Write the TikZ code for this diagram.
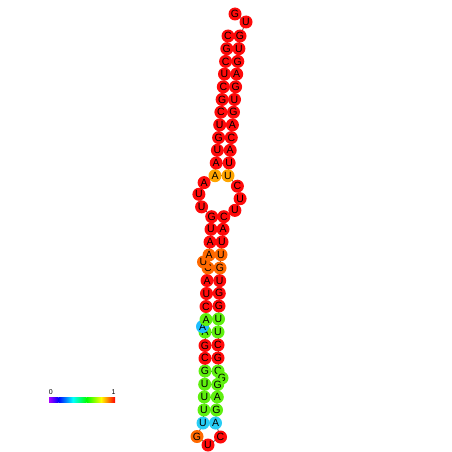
\documentclass[tikz,border=0pt]{standalone}
\usepackage{fontspec}
\setsansfont{Liberation Sans}
\pgfdeclarelayer{bg}
\pgfsetlayers{bg,main}
\definecolor{cR}{RGB}{255,10,10}
\definecolor{cO}{RGB}{255,165,0}
\definecolor{cO2}{RGB}{255,105,0}
\definecolor{cG}{RGB}{95,240,15}
\definecolor{cC}{RGB}{30,190,255}
\definecolor{cC2}{RGB}{40,205,245}
\definecolor{lPu}{RGB}{170,0,255}
\definecolor{lBl}{RGB}{0,0,255}
\definecolor{lCy}{RGB}{0,255,255}
\definecolor{lGr}{RGB}{0,255,0}
\definecolor{lYe}{RGB}{255,255,0}
\definecolor{lRe}{RGB}{255,0,0}
\tikzset{
  nt/.style={circle, inner sep=0pt, minimum size=13pt, draw=none,
    font=\sffamily\fontsize{10.5}{10.5}\selectfont},
  bb/.style={draw=black!75, line width=0.7pt},
  lbl/.style={font=\sffamily\fontsize{7}{7}\selectfont, inner sep=0pt}
}
\begin{document}
\begin{tikzpicture}[x=1pt,y=-1pt]
\useasboundingbox (0,0) rectangle (452,452);
\foreach \i/\x/\y/\b/\c in {
 1/235/14/G/cR, 2/246/22/U/cR,
 3/240/36/G/cR, 4/238.9/48.7/U/cR, 5/237.8/61.4/G/cR, 6/236.7/74.1/A/cR,
 7/235.6/86.8/G/cR, 8/234.5/99.5/U/cR, 9/233.5/112.2/G/cR, 10/232.4/124.9/A/cR,
 11/231.3/137.6/C/cR, 12/230.2/150.3/A/cR, 13/229.1/163/U/cR, 14/228/175.7/U/cO,
 15/237.4/186.2/C/cR, 16/240.1/198.7/U/cR, 17/234.9/210.4/U/cR, 18/223.8/216.7/C/cR,
 19/223/229.3/A/cR, 20/222/242/U/cR, 21/221/254.7/U/cO2, 22/220/268/G/cO2,
 23/219.7/280.7/U/cR, 24/219.3/293.3/G/cR, 25/219/306/G/cR, 26/218.5/319/U/cG,
 27/218/332/U/cG, 28/218/345/C/cR, 29/218/358/G/cR, 30/218/371/C/cG,
 31/222/378/G/cG, 32/217.7/384.5/G/cG, 33/217.3/397/A/cG, 34/216.5/410/G/cG,
 35/215.5/423/A/cC2, 36/220.5/437/C/cR, 37/208/445/U/cR, 38/197/436.5/G/cO2,
 39/203/423/U/cC2, 40/204/410/U/cG, 41/204.3/397/U/cG, 42/204.7/384.3/U/cG,
 43/205/371/G/cG, 44/205/358.3/C/cR, 45/205/345.5/G/cR, 46/205/332/A/cG,
 47/202.5/326.5/A/cC, 48/206/319.5/A/cG, 49/206/306.5/C/cR, 50/206.5/293.5/U/cR,
 51/207/280.5/A/cR, 52/208/268/C/cO2, 53/203.5/262/U/cO2, 54/209/255/A/cO2,
 55/210/242/A/cR, 56/211/229.3/U/cR, 57/211.7/216.7/G/cR, 58/201.6/206.9/U/cR,
 59/198.9/194.3/U/cR, 60/204.1/182.6/A/cR, 61/215/175.7/A/cO, 62/216.2/163/A/cR,
 63/217.4/150.3/U/cR, 64/218.6/137.6/G/cR, 65/219.7/124.9/U/cR, 66/220.9/112.2/C/cR,
 67/222.1/99.5/G/cR, 68/223.3/86.8/C/cR, 69/224.5/74.1/U/cR, 70/225.6/61.4/C/cR,
 71/226.8/48.7/G/cR, 72/228/36/C/cR}
 {\node[nt, fill=\c] (n\i) at (\x,\y) {\b};}
\begin{pgfonlayer}{bg}
\foreach \i [evaluate=\i as \j using int(\i+1)] in {1,...,71}
  {\draw[bb] (n\i.center) -- (n\j.center);}
\foreach \a/\b in {3/72,4/71,5/70,6/69,7/68,8/67,9/66,10/65,11/64,12/63,13/62,14/61,
  18/57,19/56,20/55,21/54,22/52,23/51,24/50,25/49,26/48,27/46,28/45,29/44,30/43,
  32/42,33/41,34/40,35/39}
  {\draw[bb] (n\a.center) -- (n\b.center);}
\end{pgfonlayer}
% legend
\shade[left color=lPu, right color=lBl] (49,397) rectangle (58.4,402.3);
\shade[left color=lBl, right color=lCy] (58.3,397) rectangle (72.9,402.3);
\shade[left color=lCy, right color=lGr] (72.8,397) rectangle (86.7,402.3);
\shade[left color=lGr, right color=lYe] (86.6,397) rectangle (101.2,402.3);
\shade[left color=lYe, right color=lRe] (101.1,397) rectangle (115,402.3);
\node[lbl] (l0) at (50.7,392.5) {0};
\node[lbl] (l1) at (113.5,392.5) {1};
\end{tikzpicture}
\end{document}
